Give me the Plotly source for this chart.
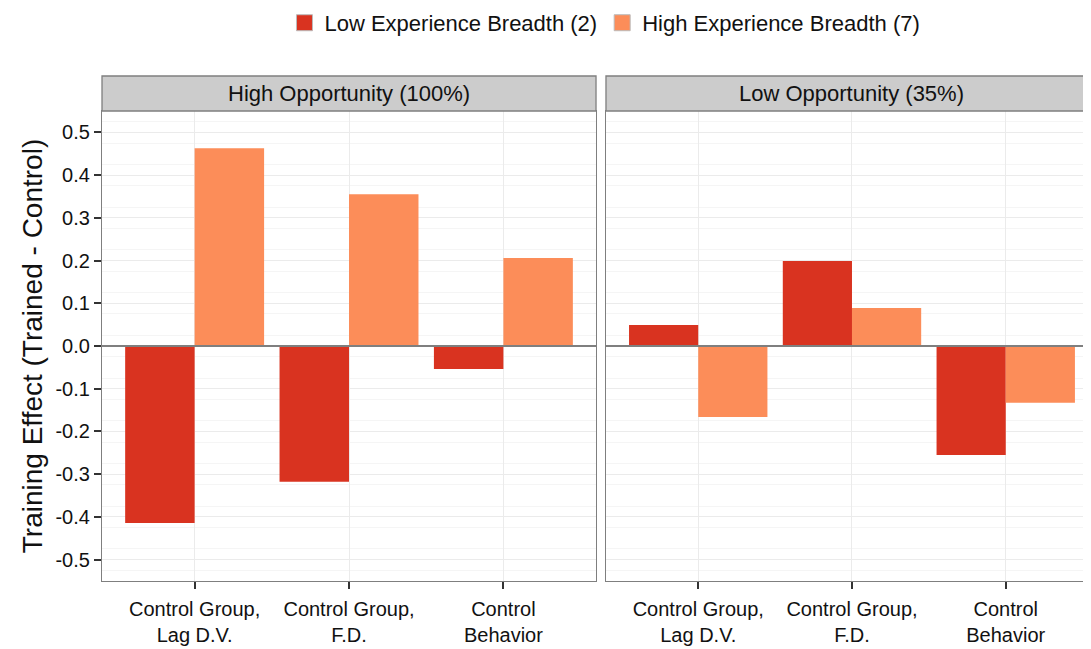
import plotly.graph_objects as go

categories = ["Control Group,<br>Lag D.V.", "Control Group,<br>F.D.", "Control<br>Behavior"]
panels = ["High Opportunity (100%)", "Low Opportunity (35%)"]
series_names = ["Low Experience Breadth (2)", "High Experience Breadth (7)"]
colors = ["#D93320", "#FC8D59"]

# training effect per panel, per series (low, high)
high_opp_low = [-0.414, -0.318, -0.054]
high_opp_high = [0.463, 0.355, 0.206]
low_opp_low = [0.049, 0.199, -0.255]
low_opp_high = [-0.166, 0.089, -0.133]

ytick_vals = [-0.5, -0.4, -0.3, -0.2, -0.1, 0.0, 0.1, 0.2, 0.3, 0.4, 0.5]
ytick_text = ["-0.5", "-0.4", "-0.3", "-0.2", "-0.1", "0.0", "0.1", "0.2", "0.3", "0.4", "0.5"]

font_family = "Liberation Sans, Arial, sans-serif"
border = "#7F7F7F"
grid_major = "#EBEBEB"
grid_minor = "#F5F5F5"

left_dom = [0, 0.496]
right_dom = [0.506, 1.0]

data_sets = [(high_opp_low, high_opp_high), (low_opp_low, low_opp_high)]

fig = go.Figure()
for p, (lo, hi) in enumerate(data_sets):
    xa = "x" if p == 0 else "x2"
    ya = "y" if p == 0 else "y2"
    for s, vals in enumerate([lo, hi]):
        fig.add_trace(go.Bar(
            x=categories, y=vals, name=series_names[s],
            marker=dict(color=colors[s], line=dict(width=0)),
            xaxis=xa, yaxis=ya, showlegend=False,
        ))

# legend entries with bigger square swatches
for s, name in enumerate(series_names):
    fig.add_trace(go.Scatter(
        x=[None], y=[None], mode="markers", name=name,
        marker=dict(symbol="square", size=16, color=colors[s],
                    line=dict(color="#BBBBBB", width=1)),
        showlegend=True,
    ))

x_common = dict(
    type="category", showgrid=True, gridcolor=grid_major, gridwidth=1,
    ticks="outside", ticklen=7, tickwidth=2, tickcolor="#333333",
    tickfont=dict(size=20, color="#111111", family=font_family),
    ticklabelstandoff=3,
    showline=True, linecolor=border, linewidth=1.3, zeroline=False,
    range=[-0.6, 2.6], mirror=True,
)
y_common = dict(
    range=[-0.55, 0.55], tickvals=ytick_vals, showgrid=True,
    gridcolor=grid_major, gridwidth=1, zeroline=False,
    minor=dict(dtick=0.05, tick0=0.025, showgrid=True, gridcolor=grid_minor, gridwidth=1),
    showline=True, linecolor=border, linewidth=1.3,
)

fig.update_layout(
    width=1091, height=649,
    margin=dict(l=94, r=1, t=103, b=76),
    plot_bgcolor="white", paper_bgcolor="white",
    barmode="group", bargap=0.1, bargroupgap=0,
    font=dict(family=font_family, size=20, color="#111111"),
    xaxis=dict(domain=left_dom, **x_common),
    xaxis2=dict(domain=right_dom, **x_common),
    yaxis=dict(
        anchor="x", ticktext=ytick_text, mirror=True,
        ticks="outside", ticklen=7, tickwidth=2, tickcolor="#333333",
        tickfont=dict(size=20, color="#111111", family=font_family),
        title=dict(text="Training Effect (Trained - Control)", standoff=4,
                   font=dict(size=28, color="#111111", family=font_family)),
        **y_common,
    ),
    yaxis2=dict(anchor="x2", matches="y", showticklabels=False, ticks="", mirror=False, **y_common),
    legend=dict(
        orientation="h", x=0.505, y=0.977, yref="container",
        xanchor="center", yanchor="middle",
        font=dict(size=22, color="#111111", family=font_family),
        traceorder="normal", itemwidth=30,
    ),
)

# zero reference line drawn above the bars
for xd, yr in [("x domain", "y"), ("x2 domain", "y2")]:
    fig.add_shape(type="line", xref=xd, yref=yr, x0=0, x1=1, y0=0, y1=0,
                  line=dict(color="#7F7F7F", width=2), layer="above")

# facet strips
strip_top = (581 - 76) / 470
for (d0, d1), label in zip([left_dom, right_dom], panels):
    fig.add_shape(type="rect", xref="paper", yref="paper", x0=d0, x1=d1,
                  y0=1, y1=strip_top, fillcolor="#CCCCCC", line=dict(color=border, width=1.3),
                  layer="above")
    fig.add_annotation(text=label, xref="paper", yref="paper", x=(d0 + d1) / 2,
                       y=(1 + strip_top) / 2, showarrow=False, xanchor="center", yanchor="middle",
                       font=dict(size=22, color="#111111", family=font_family))

fig.write_html("out.html")
